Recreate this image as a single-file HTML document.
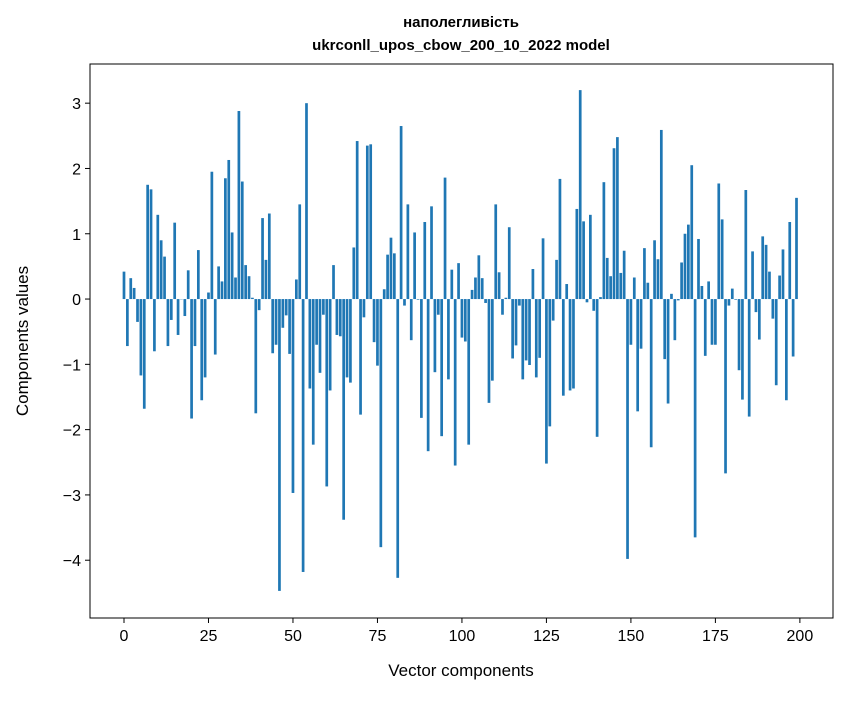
<!DOCTYPE html>
<html><head><meta charset="utf-8"><style>
body{margin:0;background:#fff;}
svg text{font-family:"Liberation Sans","DejaVu Sans",sans-serif;}
</style></head><body>
<svg id="chart" width="847" height="696" xmlns="http://www.w3.org/2000/svg">
<rect width="847" height="696" fill="#fff"/>
<text x="461" y="27" text-anchor="middle" font-size="15" font-weight="bold">наполегливість</text>
<text x="461" y="50" text-anchor="middle" font-size="15" font-weight="bold">ukrconll_upos_cbow_200_10_2022 model</text>
<g id="bars"></g>
<g id="axes"></g>
<text x="461" y="676" text-anchor="middle" font-size="17">Vector components</text>
<text transform="translate(28,341) rotate(-90)" text-anchor="middle" font-size="17">Components values</text>
</svg>
<script>
const values = [0.42,-0.72,0.32,0.17,-0.35,-1.17,-1.68,1.75,1.68,-0.8,1.29,0.9,0.65,-0.72,-0.32,1.17,-0.55,0.0,-0.26,0.44,
-1.83,-0.72,0.75,-1.55,-1.2,0.1,1.95,-0.85,0.5,0.27,1.85,2.13,1.02,0.33,2.88,1.8,0.52,0.35,0.02,-1.75,
-0.17,1.24,0.6,1.31,-0.83,-0.7,-4.47,-0.44,-0.25,-0.84,-2.97,0.3,1.45,-4.18,3.0,-1.37,-2.23,-0.7,-1.13,-0.24,
-2.87,-1.4,0.52,-0.55,-0.57,-3.38,-1.2,-1.28,0.79,2.42,-1.77,-0.28,2.35,2.37,-0.66,-1.02,-3.8,0.15,0.68,0.94,
0.7,-4.27,2.65,-0.1,1.45,-0.63,1.02,-0.01,-1.82,1.18,-2.33,1.42,-1.12,-0.24,-2.1,1.86,-1.23,0.45,-2.55,0.55,
-0.59,-0.65,-2.23,0.14,0.33,0.67,0.32,-0.06,-1.59,-1.25,1.45,0.41,-0.24,0.02,1.1,-0.91,-0.71,-0.1,-1.23,-0.94,
-1.01,0.46,-1.2,-0.9,0.93,-2.52,-1.95,-0.33,0.6,1.84,-1.48,0.23,-1.4,-1.37,1.38,3.2,1.19,-0.05,1.29,-0.18,
-2.11,0.03,1.79,0.63,0.35,2.31,2.48,0.4,0.74,-3.98,-0.7,0.33,-1.72,-0.76,0.78,0.25,-2.27,0.9,0.61,2.59,
-0.92,-1.6,0.08,-0.63,-0.02,0.56,1.0,1.14,2.05,-3.65,0.92,0.2,-0.87,0.27,-0.7,-0.7,1.77,1.22,-2.67,-0.1,
0.16,-0.01,-1.09,-1.54,1.67,-1.8,0.73,-0.2,-0.62,0.96,0.83,0.42,-0.3,-1.32,0.36,0.76,-1.55,1.18,-0.88,1.55];
const xTicks = [0,25,50,75,100,125,150,175,200];
const yTicks = [-4,-3,-2,-1,0,1,2,3];
const NS="http://www.w3.org/2000/svg";
const L=90,R=833,T=64,B=618;
const xMin=-10.06,xMax=209.8,yMin=-4.885,yMax=3.6;
function xs(v){return L+(v-xMin)/(xMax-xMin)*(R-L);}
function ys(v){return T+(yMax-v)/(yMax-yMin)*(B-T);}
const barsG=document.getElementById('bars');
const bw=(xs(0.8)-xs(0));
values.forEach((v,i)=>{
  const r=document.createElementNS(NS,'rect');
  const y0=ys(0),y1=ys(v);
  r.setAttribute('x',xs(i)-bw/2);
  r.setAttribute('y',Math.min(y0,y1));
  r.setAttribute('width',bw);
  r.setAttribute('height',Math.max(Math.abs(y1-y0),0.3));
  r.setAttribute('fill','#1f77b4');
  
  
  barsG.appendChild(r);
});
const ax=document.getElementById('axes');
const frame=document.createElementNS(NS,'rect');
frame.setAttribute('x',L);frame.setAttribute('y',T);frame.setAttribute('width',R-L);frame.setAttribute('height',B-T);
frame.setAttribute('fill','none');frame.setAttribute('stroke','#000');frame.setAttribute('stroke-width','1');


ax.appendChild(frame);
xTicks.forEach(t=>{
  const x=xs(t);
  const l=document.createElementNS(NS,'line');
  l.setAttribute('x1',x);l.setAttribute('x2',x);l.setAttribute('y1',B);l.setAttribute('y2',B+5);l.setAttribute('stroke','#000');
  
  
  ax.appendChild(l);
  const tx=document.createElementNS(NS,'text');
  tx.setAttribute('x',x);tx.setAttribute('y',B+23);tx.setAttribute('text-anchor','middle');tx.setAttribute('font-size','16');
  tx.textContent=t;
  
  
  ax.appendChild(tx);
});
yTicks.forEach(t=>{
  const y=ys(t);
  const l=document.createElementNS(NS,'line');
  l.setAttribute('x1',L-5);l.setAttribute('x2',L);l.setAttribute('y1',y);l.setAttribute('y2',y);l.setAttribute('stroke','#000');
  
  
  ax.appendChild(l);
  const tx=document.createElementNS(NS,'text');
  tx.setAttribute('x',L-9);tx.setAttribute('y',y+6);tx.setAttribute('text-anchor','end');tx.setAttribute('font-size','16');
  tx.textContent=t<0?'\u2212'+Math.abs(t):String(t);
  
  
  ax.appendChild(tx);
});
</script>
</body></html>
